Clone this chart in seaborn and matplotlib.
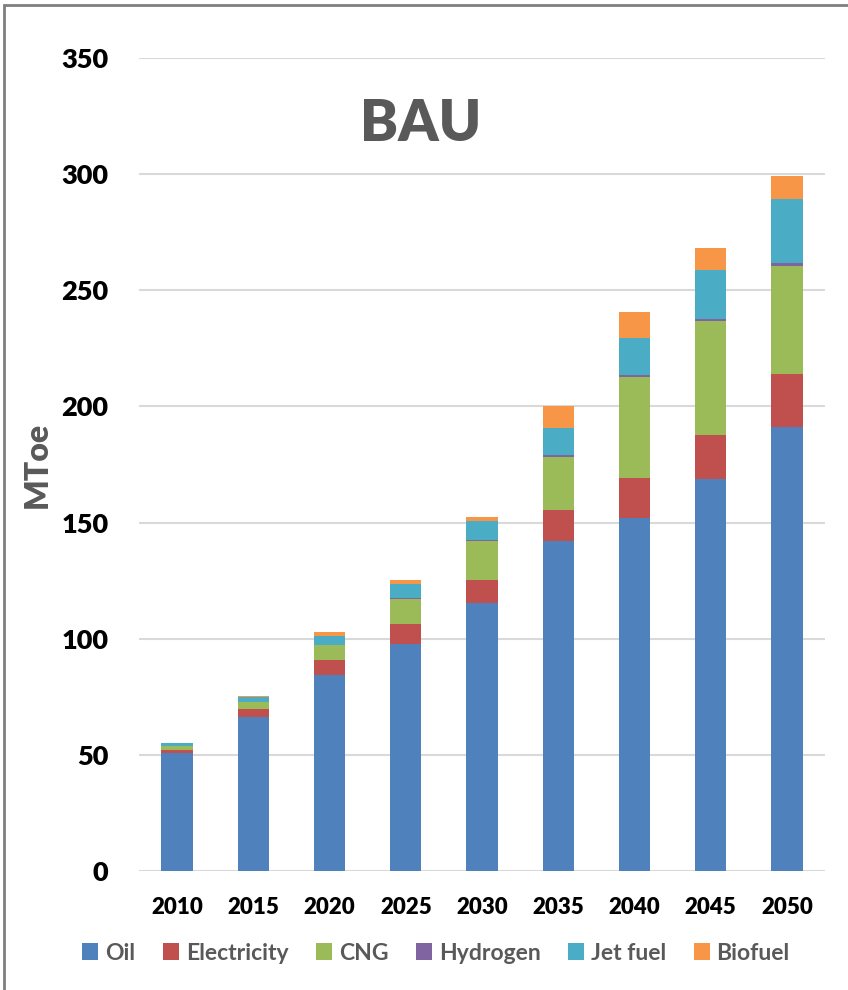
import numpy as np
import pandas as pd
import seaborn as sns
import matplotlib.pyplot as plt
from matplotlib.patches import Patch, Rectangle

#%%  # data (MToe)

years = ['2010', '2015', '2020', '2025', '2030', '2035', '2040', '2045', '2050']
oil = [50.8, 66.4, 84.3, 97.7, 115.4, 142.0, 152.1, 168.9, 191.0]
electricity = [1.4, 3.3, 6.5, 8.7, 9.8, 13.3, 17.1, 18.7, 23.1]
cng = [1.7, 3.1, 6.4, 10.9, 17.0, 22.8, 43.4, 49.2, 46.3]
hydrogen = [0.1, 0.1, 0.2, 0.3, 0.5, 0.8, 0.8, 1.0, 1.2]
jet_fuel = [0.9, 2.1, 3.9, 5.8, 8.0, 11.7, 16.0, 20.9, 27.7]
biofuel = [0.4, 0.4, 1.7, 1.8, 1.7, 9.6, 11.1, 9.5, 9.8]

series = ['Oil', 'Electricity', 'CNG', 'Hydrogen', 'Jet fuel', 'Biofuel']
colors = ['#4F81BD', '#C0504D', '#9BBB59', '#8064A2', '#4BACC6', '#F79646']

df = pd.DataFrame({'Year': years, 'Oil': oil, 'Electricity': electricity,
                   'CNG': cng, 'Hydrogen': hydrogen, 'Jet fuel': jet_fuel,
                   'Biofuel': biofuel})
cum = df[series].cumsum(axis=1)

#%%  # style

sns.set_style('white')
plt.rcParams['font.family'] = ['Lato', 'DejaVu Sans']
plt.rcParams['font.weight'] = 'bold'

fig = plt.figure(figsize=(8.48, 9.9), dpi=100)
ax = fig.add_axes([139/848, 1-871/990, 686/848, 813/990])

#%%  # stacked bars: draw cumulative totals from the top down

for name, col in zip(series[::-1], colors[::-1]):
    sns.barplot(x=df['Year'], y=cum[name], color=col, saturation=1,
                width=0.41, linewidth=0, ax=ax, zorder=3)

ax.set_ylim(0, 350)
ax.set_xlim(-0.5, 8.5)
ax.set_yticks(np.arange(0, 351, 50))
ax.yaxis.grid(True, color='#D9D9D9', lw=1.5, zorder=0)
ax.xaxis.grid(False)
ax.set_axisbelow(True)
sns.despine(ax=ax, left=True, bottom=True)
ax.tick_params(axis='y', length=0, pad=22, labelsize=19.5, labelcolor='black')
ax.tick_params(axis='x', length=0, pad=19, labelsize=16, labelcolor='black')
for t in ax.get_xticklabels() + ax.get_yticklabels():
    t.set_fontweight('heavy')
ax.set_xlabel('')
ax.set_ylabel('')

ax.text(0.41, 0.919, 'BAU', transform=ax.transAxes, ha='center', va='center',
        fontsize=41, fontweight='heavy', color='#595959')
fig.text(37/848, 1-465/990, 'MToe', rotation=90, ha='center', va='center',
         fontsize=23, fontweight='heavy', color='#595959')

#%%  # legend

handles = [Patch(facecolor=c, edgecolor='none', label=s) for s, c in zip(series, colors)]
leg = fig.legend(handles=handles, loc='center', bbox_to_anchor=(436/848, 1-953/990),
                 ncol=6, frameon=False, fontsize=16.5, handlelength=0.7,
                 handleheight=0.7, handletextpad=0.3, columnspacing=1.2)
for t in leg.get_texts():
    t.set_color('#595959')
    t.set_fontweight('bold')

# outer chart border (only top/left are visible in the reference)
fig.patches.append(Rectangle((4/848, -0.05), 1.2, 1-4.5/990+0.05, transform=fig.transFigure,
                             fill=False, edgecolor='#7F7F7F', lw=2, clip_on=False))

fig.savefig('out.png', dpi=100)
